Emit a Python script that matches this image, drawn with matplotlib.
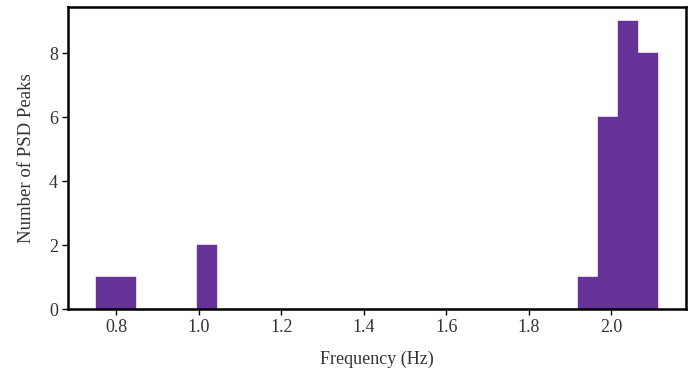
import matplotlib
matplotlib.use("Agg")
import matplotlib.pyplot as plt
import numpy as np

# histogram of PSD peak frequencies (28 bins)
bin_start = 0.752
bin_end = 2.113
n_bins = 28
counts = [1, 1, 0, 0, 0, 2, 0, 0, 0, 0, 0, 0, 0, 0,
          0, 0, 0, 0, 0, 0, 0, 0, 0, 0, 1, 6, 9, 8]

edges = np.linspace(bin_start, bin_end, n_bins + 1)
centers = (edges[:-1] + edges[1:]) / 2

plt.rcParams['font.family'] = ['Liberation Serif', 'DejaVu Serif']

fig = plt.figure(figsize=(6.97, 3.75), dpi=100)
ax = fig.add_axes([0.098, 0.176, 0.886, 0.805])

ax.hist(centers, bins=edges, weights=counts, color='#663399',
        edgecolor='#663399', linewidth=0.3)

ax.set_xlabel("Frequency (Hz)", fontsize=13, color='#333333', labelpad=10)
ax.set_ylabel("Number of PSD Peaks", fontsize=13.5, color='#333333', labelpad=10)
ax.set_xticks([0.8, 1.0, 1.2, 1.4, 1.6, 1.8, 2.0])
ax.set_yticks([0, 2, 4, 6, 8])
ax.tick_params(labelsize=13, labelcolor='#333333', length=4, width=1, direction='out')

for s in ax.spines.values():
    s.set_linewidth(1.8)
    s.set_color('black')

fig.savefig("out.png", dpi=100)
